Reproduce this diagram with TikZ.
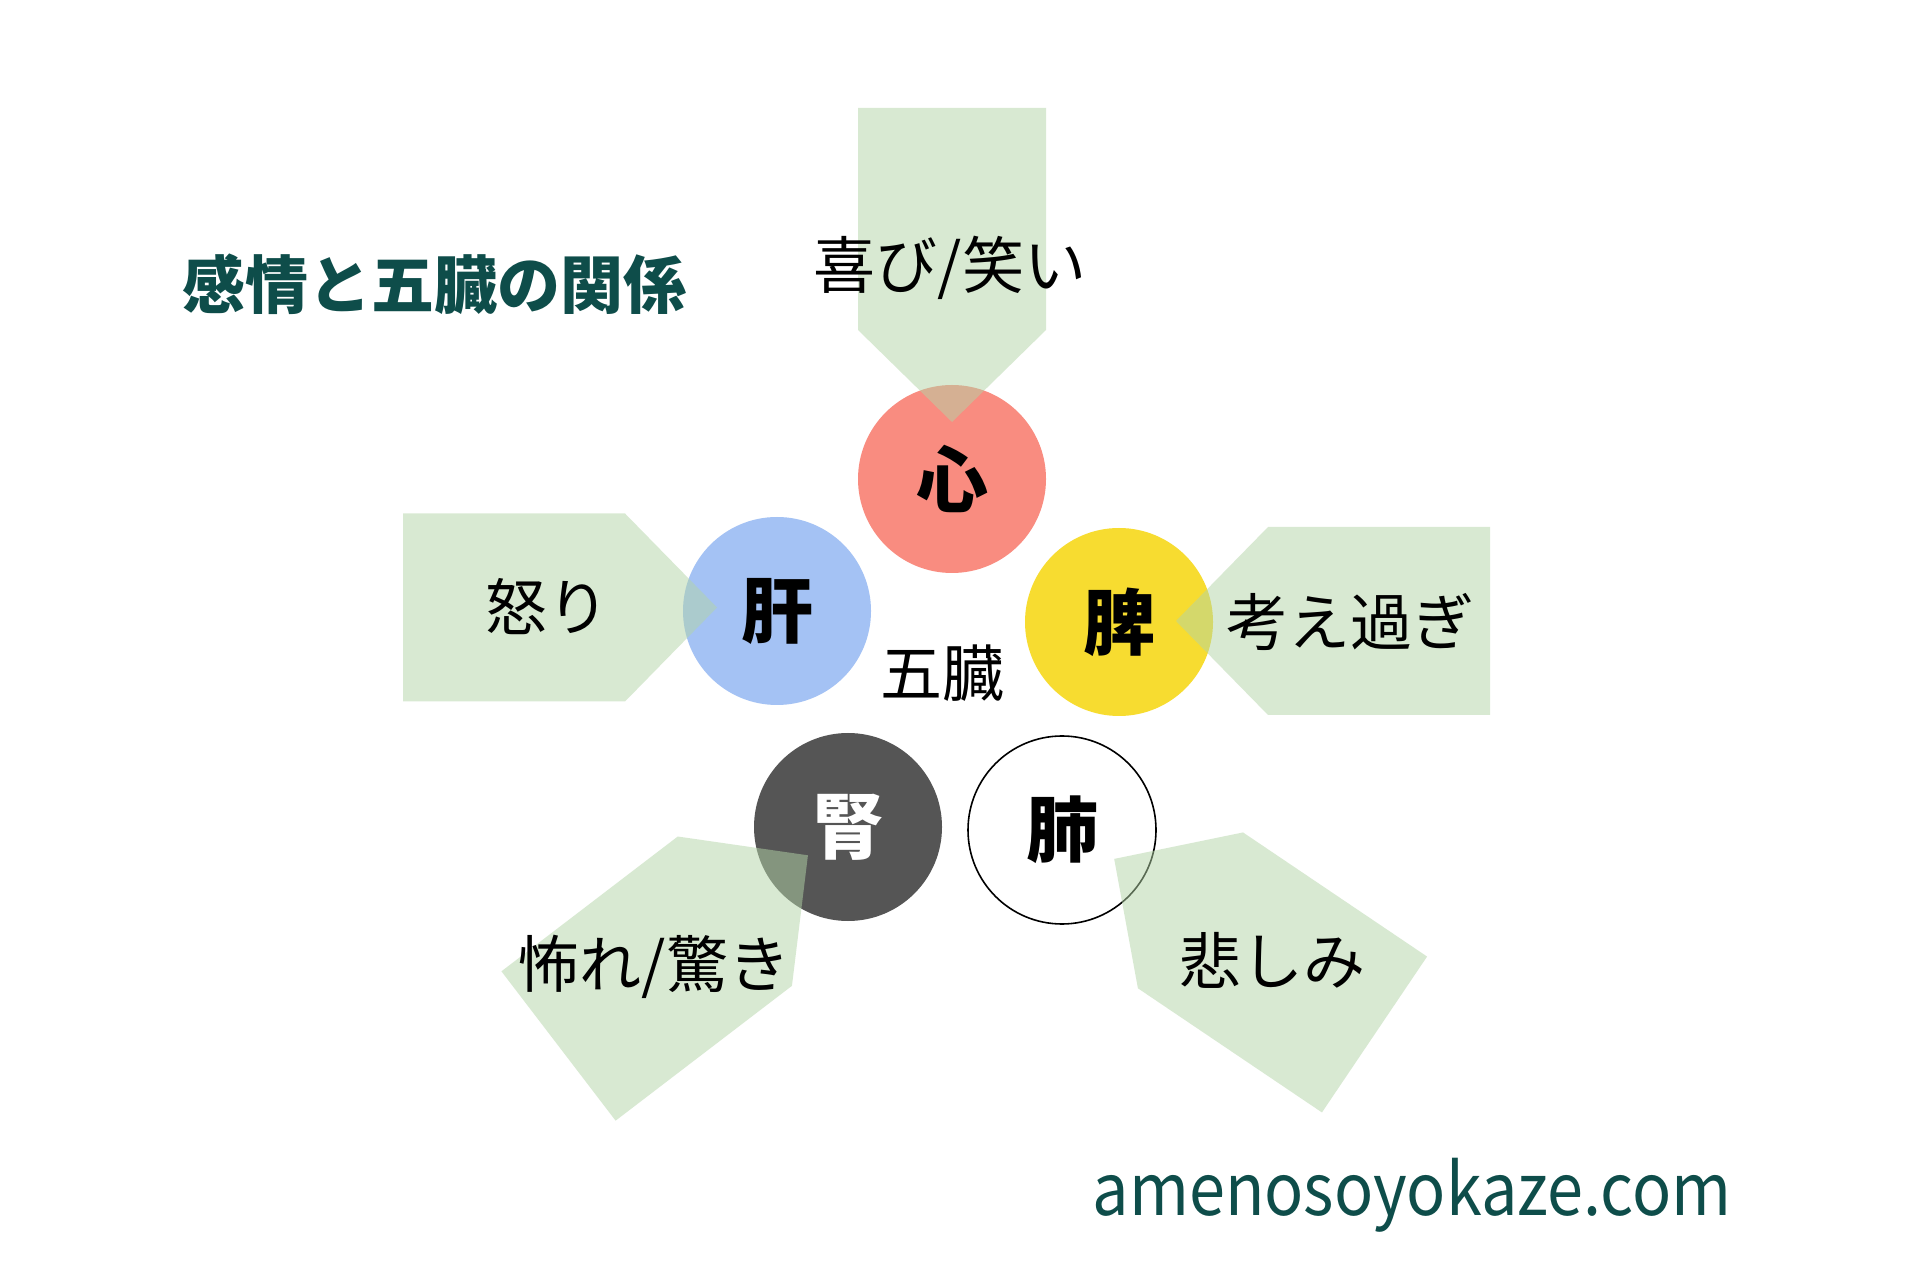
\documentclass[tikz,border=0pt]{standalone}
\usepackage{fontspec}
\newfontfamily\jp{Noto Sans CJK JP}
\newfontfamily\jpnarrow[FakeStretch=0.9]{Noto Sans CJK JP}
\definecolor{teal1}{HTML}{0E4D4A}
\definecolor{arrowgreen}{RGB}{179,213,167}
\definecolor{heartred}{HTML}{F98C80}
\definecolor{liverblue}{HTML}{A4C2F4}
\definecolor{spleenyellow}{HTML}{F7DC30}
\definecolor{kidneygray}{HTML}{555555}
\tikzset{
  organ/.style={circle, minimum size=94pt, inner sep=0pt, font=\jp\bfseries\fontsize{36pt}{36pt}\selectfont},
  emotion/.style={inner sep=0pt, font=\jp\fontsize{31pt}{31pt}\selectfont, text=black},
  homeplate/.pic={\fill[arrowgreen, fill opacity=0.5] (0,-94) -- (222,-94) -- (314,0) -- (222,94) -- (0,94) -- cycle;}
}
\begin{document}
\begin{tikzpicture}[x=0.5pt,y=0.5pt]
\fill[white] (0,0) rectangle (1920,1280);
\useasboundingbox (0,0) rectangle (1920,1280);
% title
\node[text=teal1, inner sep=0pt, font=\jp\bfseries\fontsize{31.5pt}{31.5pt}\selectfont] (title) at (434,996) {感情と五臓の関係};
% organs
\node[organ, fill=heartred] (heart) at (952,801) {心};
\node[organ, fill=liverblue] (liver) at (777,669) {肝};
\node[organ, fill=spleenyellow] (spleen) at (1119,658) {脾};
\node[organ, fill=kidneygray, text=white] (kidney) at (848,453) {腎};
\node[organ, fill=white, draw=black, line width=0.8pt] (lung) at (1062,450) {肺};
\node[emotion] (gozo) at (942,607) {五臓};
% arrows
\pic[rotate=-90] (a1) at (952,1172) {homeplate};
\pic[rotate=0] (a2) at (403,672.5) {homeplate};
\pic[rotate=180] (a3) at (1490,659) {homeplate};
\pic[rotate=37.4] (a4) at (558.5,234) {homeplate};
\pic[rotate=146] (a5) at (1374.5,245.5) {homeplate};
% emotion labels
\node[emotion] (joy) at (950,1012) {喜び/笑い};
\node[emotion] (anger) at (547,673) {怒り};
\node[emotion] (think) at (1350,658) {考え過ぎ};
\node[emotion] (sad) at (1272,320) {悲しみ};
\node[emotion] (fear) at (654,313) {怖れ/驚き};
% watermark
\node[anchor=base, inner sep=0pt, text=teal1, font=\jpnarrow\fontsize{36pt}{36pt}\selectfont] (web) at (1412,65) {amenosoyokaze.com};
\end{tikzpicture}
\end{document}
